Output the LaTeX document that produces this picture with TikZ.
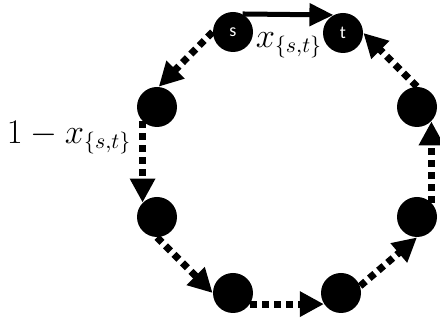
\documentclass[tikz,border=0pt]{standalone}
\usepackage{fontspec}
\usepackage{tikz}
\usetikzlibrary{positioning, arrows.meta}
\newfontfamily\nodefont{Carlito}
\definecolor{vertexblack}{HTML}{000000}

\tikzset{
  vertex/.style={circle, fill=vertexblack, minimum size=20pt, inner sep=0pt,
                 text=white, font=\nodefont\fontsize{9}{10}\selectfont},
  flowdash/.style={line width=3.5pt, dash pattern=on 3.5pt off 2.5pt,
                   -{Triangle[length=12pt, width=12pt]}},
  flowsolid/.style={line width=2.5pt, -{Triangle[length=12pt, width=11pt]}},
  flowlabel/.style={font=\fontsize{16}{19}\selectfont}
}

\begin{document}
\begin{tikzpicture}[x=0.5pt, y=-0.5pt]
    \useasboundingbox (0,0) rectangle (440,324);
    % vertices of the cycle
    \node[vertex] (s)  at (233,32)  {s};
    \node[vertex] (t)  at (343,33)  {t};
    \node[vertex] (lt) at (157,107) {};
    \node[vertex] (lb) at (157,217) {};
    \node[vertex] (bl) at (233,293) {};
    \node[vertex] (br) at (341,293) {};
    \node[vertex] (rb) at (417,217) {};
    \node[vertex] (rt) at (417,107) {};
    % direct edge
    \draw[flowsolid] (s.62) -- (t.118);
    % detour around the cycle
    \draw[flowdash] (s.180) -- (lt.85);
    \draw[flowdash] (lt.225) -- (lb.135);
    \draw[flowdash] (lb.south) -- (bl.west);
    \draw[flowdash] (bl.-33) -- (br.213);
    \draw[flowdash] (br.20) -- (rb.south);
    \draw[flowdash] (rb.45) -- (rt.-45);
    \draw[flowdash] (rt.north) -- (t.east);
    % labels
    \node[flowlabel] (xst) at (289,45) {$x_{\{s,t\}}$};
    \node[flowlabel] (oneminus) at (69,138) {$1-x_{\{s,t\}}$};
  \end{tikzpicture}
\end{document}
